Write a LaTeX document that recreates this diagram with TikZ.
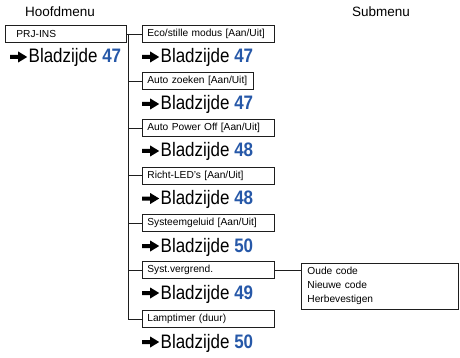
\documentclass[tikz,border=0pt]{standalone}
\usepackage{fontspec}
\setmainfont{Liberation Sans}
\newfontfamily\grootfont[FakeStretch=0.87]{Liberation Sans}
\usetikzlibrary{positioning,calc}
\definecolor{PageBlue}{RGB}{38,88,168}
\definecolor{LineGrey}{RGB}{30,30,30}

% thick arrow in front of each page reference
\newcommand{\pijl}{\tikz[baseline=0pt]\fill (0pt,4pt) -- (8pt,4pt) -- (8pt,0.5pt) -- (17pt,6pt) -- (8pt,11.5pt) -- (8pt,8pt) -- (0pt,8pt) -- cycle;}
\newcommand{\blz}[1]{\pijl\hspace{1.5pt}Bladzijde {\bfseries\color{PageBlue}#1}}

\begin{document}
\begin{tikzpicture}[x=1pt, y=-1pt,
  menubox/.style={draw=LineGrey, line width=0.8pt, inner xsep=5pt, inner ysep=0pt,
    minimum height=17pt, text width=122pt, align=left, anchor=west,
    font=\fontsize{10.2}{12}\selectfont},
  pageref/.style={inner sep=0pt, anchor=base west, font=\grootfont\fontsize{19.5}{20}\selectfont},
  kop/.style={font=\fontsize{13.5}{15}\selectfont},
  tak/.style={draw=LineGrey, line width=0.8pt}]
\useasboundingbox (0,0) rectangle (460,358);

\node[kop] (hoofd) at (60,12) {Hoofdmenu};
\node[kop] (subkop) at (381,12) {Submenu};

\node[menubox, text width=99pt, inner xsep=11pt] (prj) at (5,34) {PRJ-INS};
\node[pageref] (pPrj) at (10,63) {\blz{47}};

\node[menubox] (eco) at (142,34) {Eco/stille modus [Aan/Uit]};
\node[pageref] (pEco) at (142,63) {\blz{47}};
\node[menubox, text width=101pt] (zoek) at (142,81) {\mbox{Auto zoeken [Aan/Uit]}};
\node[pageref] (pZoek) at (142,110) {\blz{47}};
\node[menubox] (apo) at (142,128) {Auto Power Off [Aan/Uit]};
\node[pageref] (pApo) at (142,157) {\blz{48}};
\node[menubox] (led) at (142,175.5) {Richt-LED's [Aan/Uit]};
\node[pageref] (pLed) at (142,204.5) {\blz{48}};
\node[menubox] (geluid) at (142,223) {Systeemgeluid [Aan/Uit]};
\node[pageref] (pGeluid) at (142,252) {\blz{50}};
\node[menubox] (slot) at (142,270) {Syst.vergrend.};
\node[pageref] (pSlot) at (142,299) {\blz{49}};
\node[menubox] (timer) at (142,319) {Lamptimer (duur)};
\node[pageref] (pTimer) at (142,348) {\blz{50}};

\node[menubox, anchor=north west, text width=145pt, inner xsep=6pt, inner ysep=4pt,
  font=\fontsize{10.2}{14}\selectfont] (sub) at (301,263) {Oude code\\Nieuwe code\\Herbevestigen};

% verbindingen
\coordinate (stam) at (128,34);
\draw[tak] (prj) -- (eco);
\draw[tak] (stam) |- (timer.west);
\foreach \n in {zoek,apo,led,geluid,slot}
  \draw[tak] (stam |- \n.west) -- (\n.west);
\draw[tak] (slot.east) -- (slot.east -| sub.west);
\end{tikzpicture}
\end{document}
